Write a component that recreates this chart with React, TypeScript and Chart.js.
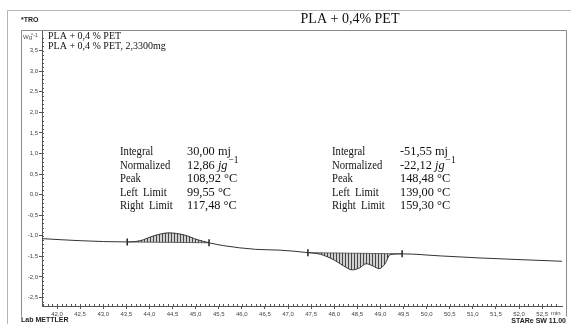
import React, { useEffect, useRef } from "react";
import { Chart, registerables } from "chart.js";

Chart.register(...registerables);

// time (min) and heat flow (W/g)
const times = [41.68, 42.5, 43.52, 43.8, 44.1, 44.42, 44.75, 45.05, 45.29, 45.6, 46.3, 46.83, 47.43, 47.7, 48.0, 48.2, 48.39, 48.55, 48.69, 48.83, 48.97, 49.1, 49.21, 49.47, 50.3, 51.16, 52.93];
const heatFlow = [-1.07, -1.12, -1.15, -1.12, -1.0, -0.93, -0.98, -1.1, -1.17, -1.24, -1.33, -1.35, -1.41, -1.45, -1.59, -1.73, -1.83, -1.78, -1.68, -1.73, -1.8, -1.68, -1.46, -1.44, -1.49, -1.54, -1.62];

// integration limits (time, value)
const limitTimes = [43.52, 45.29, 47.43, 49.47];
const limitValues = [-1.15, -1.17, -1.41, -1.44];

const xTickValues = [42.0, 42.5, 43.0, 43.5, 44.0, 44.5, 45.0, 45.5, 46.0, 46.5, 47.0, 47.5, 48.0, 48.5, 49.0, 49.5, 50.0, 50.5, 51.0, 51.5, 52.0, 52.5];
const yTickValues = [-2.5, -2.0, -1.5, -1.0, -0.5, 0.0, 0.5, 1.0, 1.5, 2.0, 2.5, 3.0, 3.5];

const title = "PLA + 0,4% PET";
const legendLines = ["PLA + 0,4 % PET", "PLA + 0,4 % PET, 2,3300mg"];
const labelsLeft = ["Integral", "Normalized", "Peak", "Left  Limit", "Right  Limit"];
const valuesPeak1 = ["30,00 mj", "12,86 ", "108,92 °C", "99,55 °C", "117,48 °C"];
const valuesPeak2 = ["-51,55 mj", "-22,12 ", "148,48 °C", "139,00 °C", "159,30 °C"];

const fmt = (v: number) => v.toFixed(1).replace(".", ",");

function pts(from: number, to: number) {
  const out: { x: number; y: number }[] = [];
  for (let i = from; i <= to; i++) out.push({ x: times[i], y: heatFlow[i] });
  return out;
}

export default function App() {
  const ref = useRef<HTMLCanvasElement | null>(null);

  useEffect(() => {
    const canvas = ref.current!;
    const ctx = canvas.getContext("2d")!;
    const pc = document.createElement("canvas");
    pc.width = 3;
    pc.height = 3;
    const pctx = pc.getContext("2d")!;
    pctx.fillStyle = "rgba(50,50,50,0.9)";
    pctx.fillRect(0, 0, 1, 3);
    pctx.fillStyle = "rgba(120,120,120,0.35)";
    pctx.fillRect(1, 0, 2, 3);
    const hatch = ctx.createPattern(pc, "repeat")!;

    const decor = {
      id: "decor",
      beforeDraw(chart: any) {
        const c = chart.ctx;
        c.save();
        c.fillStyle = "#fff";
        c.fillRect(0, 0, chart.width, chart.height);
        c.restore();
      },
      afterDraw(chart: any) {
        const c = chart.ctx as CanvasRenderingContext2D;
        const xs = chart.scales.x;
        const ys = chart.scales.y;
        c.save();
        // outer frame
        c.strokeStyle = "#b5b5b5";
        c.lineWidth = 1;
        c.beginPath();
        c.moveTo(7.5, 324);
        c.lineTo(7.5, 10.5);
        c.lineTo(571, 10.5);
        c.stroke();
        // inner frame
        c.strokeStyle = "#8a8a8a";
        c.beginPath();
        c.moveTo(21.5, 316.5);
        c.lineTo(21.5, 30.5);
        c.lineTo(566.5, 30.5);
        c.lineTo(566.5, 316.5);
        c.stroke();

        // minor ticks
        c.strokeStyle = "#555";
        c.lineWidth = 1;
        const ax = chart.chartArea;
        for (let v = -2.7; v <= 3.9; v += 0.1) {
          const y = Math.round(ys.getPixelForValue(v)) + 0.5;
          c.beginPath();
          c.moveTo(ax.left, y);
          c.lineTo(ax.left + 2, y);
          c.stroke();
        }
        for (let v = 41.7; v <= 52.9; v += 0.1) {
          const x = Math.round(xs.getPixelForValue(v)) + 0.5;
          c.beginPath();
          c.moveTo(x, ax.bottom);
          c.lineTo(x, ax.bottom - 2);
          c.stroke();
        }

        // unit labels
        c.fillStyle = "#444";
        c.font = "6px 'Liberation Sans'";
        c.textBaseline = "middle";
        c.textAlign = "left";
        c.fillText("Wg", 23, 37);
        c.font = "5px 'Liberation Sans'";
        c.fillText("^-1", 31, 36);
        c.font = "6px 'Liberation Sans'";
        c.fillText("min", 551, xs.bottom - 5);

        // logo
        c.font = "bold 7px 'Liberation Sans'";
        c.fillStyle = "#222";
        c.fillText("*TRO", 21, 20);

        // title
        c.font = "14px 'Liberation Serif'";
        c.textAlign = "center";
        c.fillStyle = "#111";
        c.fillText(title, 350, 19);

        // legend
        c.font = "10px 'Liberation Serif'";
        c.textAlign = "left";
        c.fillText(legendLines[0], 48, 36);
        c.fillText(legendLines[1], 48, 46);

        // footer
        c.font = "bold 7px 'Liberation Sans'";
        c.fillStyle = "#222";
        c.fillText("Lab METTLER", 21, 320);
        c.textAlign = "right";
        c.fillText("STARe SW 11.00", 566, 321);

        // result boxes
        const drawBlock = (x0: number, x1: number, vals: string[]) => {
          c.textAlign = "left";
          c.fillStyle = "#111";
          for (let i = 0; i < labelsLeft.length; i++) {
            const y = 152 + i * 13.5;
            c.font = "13px 'Liberation Serif'";
            c.save();
            c.translate(x0, y);
            c.scale(0.82, 1);
            c.fillText(labelsLeft[i], 0, 0);
            c.restore();
            c.save();
            c.translate(x1, y);
            c.scale(0.95, 1);
            c.fillText(vals[i], 0, 0);
            if (i === 1) {
              const w = c.measureText(vals[i]).width;
              c.font = "italic 13px 'Liberation Serif'";
              c.fillText("jg", w, 0);
              const w2 = c.measureText("jg").width;
              c.font = "10px 'Liberation Serif'";
              c.fillText("−1", w + w2 + 1, -5);
            }
            c.restore();
          }
        };
        drawBlock(120, 187, valuesPeak1);
        drawBlock(332, 400, valuesPeak2);
        c.restore();
      },
    };

    const chart = new Chart(canvas, {
      type: "line",
      data: {
        datasets: [
          {
            data: times.map((t, i) => ({ x: t, y: heatFlow[i] })),
            borderColor: "#333",
            borderWidth: 1,
            pointRadius: 0,
            cubicInterpolationMode: "monotone",
            fill: false,
          },
          {
            data: pts(2, 8),
            borderWidth: 0,
            borderColor: "rgba(0,0,0,0)",
            pointRadius: 0,
            cubicInterpolationMode: "monotone",
            backgroundColor: hatch,
            fill: 2,
          },
          {
            data: [
              { x: limitTimes[0], y: limitValues[0] },
              { x: limitTimes[1], y: limitValues[1] },
            ],
            borderColor: "#444",
            borderWidth: 0.8,
            pointRadius: 0,
            fill: false,
          },
          {
            data: pts(12, 23),
            borderWidth: 0,
            borderColor: "rgba(0,0,0,0)",
            pointRadius: 0,
            cubicInterpolationMode: "monotone",
            backgroundColor: hatch,
            fill: 4,
          },
          {
            data: [
              { x: limitTimes[2], y: limitValues[2] },
              { x: limitTimes[3], y: limitValues[3] },
            ],
            borderColor: "#444",
            borderWidth: 0.8,
            pointRadius: 0,
            fill: false,
          },
          {
            data: limitTimes.map((t, i) => ({ x: t, y: limitValues[i] })),
            showLine: false,
            pointStyle: "line",
            rotation: 90,
            pointRadius: 3.5,
            borderColor: "#222",
            borderWidth: 1.5,
          },
        ] as any,
      },
      options: {
        animation: false,
        responsive: false,
        devicePixelRatio: 1,
        events: [],
        layout: { padding: { left: 21, right: 9, top: 30, bottom: 6 } },
        plugins: { legend: { display: false }, tooltip: { enabled: false }, title: { display: false } },
        scales: {
          x: {
            type: "linear",
            min: 41.675,
            max: 52.93,
            afterBuildTicks: (s: any) => {
              s.ticks = xTickValues.map((v) => ({ value: v }));
            },
            afterFit: (s: any) => {
              s.height = 12;
            },
            ticks: {
              autoSkip: false,
              maxRotation: 0,
              padding: 2,
              color: "#444",
              font: { family: "'Liberation Sans'", size: 6 },
              callback: (v: any) => fmt(Number(v)),
            },
            grid: { drawOnChartArea: false, drawTicks: true, tickLength: 3, color: "#555" },
            border: { display: true, color: "#555", width: 1 },
          },
          y: {
            type: "linear",
            min: -2.707,
            max: 4.0,
            afterBuildTicks: (s: any) => {
              s.ticks = yTickValues.map((v) => ({ value: v }));
            },
            afterFit: (s: any) => {
              s.width = 21;
            },
            ticks: {
              autoSkip: false,
              padding: 1,
              color: "#444",
              font: { family: "'Liberation Sans'", size: 6 },
              callback: (v: any) => fmt(Number(v)),
            },
            grid: { drawOnChartArea: false, drawTicks: true, tickLength: 3, color: "#555" },
            border: { display: true, color: "#555", width: 1 },
          },
        },
      },
      plugins: [decor],
    } as any);
    return () => chart.destroy();
  }, []);

  return (
    <div style={{ position: "absolute", left: 0, top: 0, width: 571, height: 324, background: "#fff" }}>
      <canvas ref={ref} width={571} height={324} style={{ display: "block", width: 571, height: 324 }} />
    </div>
  );
}
